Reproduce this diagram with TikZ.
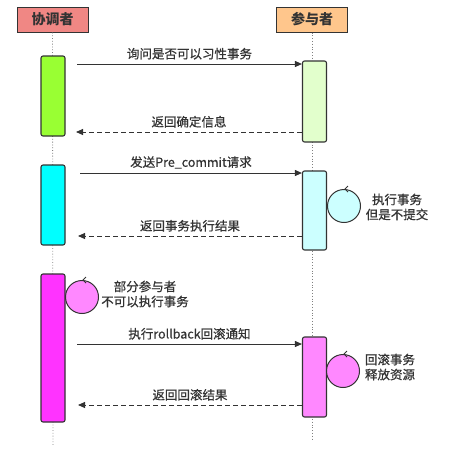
\documentclass[tikz,border=0pt]{standalone}
\usepackage{fontspec}
\setmainfont{Noto Sans CJK SC}
\newfontfamily\labelfont{Noto Sans CJK SC}[FakeBold=0.6]
\usepackage{tikz}
\usetikzlibrary{arrows.meta}
\usepackage[dvipsnames,svgnames,x11names]{xcolor}

\definecolor{coordred}{HTML}{F08784}
\definecolor{partorange}{HTML}{FFC68C}
\definecolor{actgreen}{HTML}{99FF33}
\definecolor{actpalegreen}{HTML}{E2FFCC}
\definecolor{actcyan}{HTML}{00FFFF}
\definecolor{actpalecyan}{HTML}{CCFFFF}
\definecolor{actmagenta}{HTML}{FF33FF}
\definecolor{actpink}{HTML}{FF88FF}
\definecolor{inkgray}{HTML}{333333}

\begin{document}
\begin{tikzpicture}[
    x=1pt, y=-1pt,
    >=Triangle,
    head/.style={draw=inkgray, line width=1pt, minimum width=71pt,
        minimum height=25pt, inner sep=0pt, font=\fontsize{14}{16}\selectfont\bfseries,
        text=inkgray},
    act/.style={draw=inkgray, line width=1.1pt, rounded corners=2pt,
        minimum width=24pt, inner sep=0pt},
    msg/.style={-{Triangle[length=7pt,width=6pt]}, line width=0.9pt, inkgray},
    reply/.style={msg, dash pattern=on 5pt off 3pt},
    lbl/.style={font=\labelfont\fontsize{12.5}{15}\selectfont, text=inkgray, inner sep=1pt},
    life/.style={gray, line width=0.8pt, dotted},
    loopmark/.style={inkgray, line width=0.8pt}
]

    \useasboundingbox (0,0) rectangle (459,475);

    % Rollen
    \node[head, fill=coordred] (coord) at (52.5,19.5) {协调者};
    \node[head, fill=partorange] (part) at (312,19.5) {参与者};

    % Lebenslinien
    \coordinate (coordend) at (53,446);
    \coordinate (partend) at (312,441);
    \draw[life] (coord.south) -- (coordend);
    \draw[life] (part.south) -- (partend);

    % Aktivierungen
    \node[act, fill=actgreen, minimum height=80pt] (c1) at (53,96) {};
    \node[act, fill=actpalegreen, minimum height=81pt] (p1) at (314.5,101.5) {};
    \node[act, fill=actcyan, minimum height=80pt] (c2) at (53,205) {};
    \node[act, fill=actpalecyan, minimum height=79pt] (p2) at (314.5,210.5) {};
    \node[act, fill=actmagenta, minimum height=148pt] (c3) at (53,348) {};
    \node[act, fill=actpink, minimum height=80pt] (p3) at (314.5,377) {};

    % Nachrichten
    \coordinate (m1) at (77,64);
    \draw[msg] (m1) -- (p1.west |- m1)
        node[lbl, midway, above=3pt] {询问是否可以习性事务};
    \coordinate (m2) at (76,132);
    \draw[reply] (p1.west |- m2) -- (m2)
        node[lbl, midway, above=3pt] {返回确定信息};
    \coordinate (m3) at (80,173);
    \draw[msg] (m3) -- (p2.west |- m3)
        node[lbl, midway, above=3pt] {发送Pre\_commit请求};
    \coordinate (m4) at (78,236);
    \draw[reply] (p2.west |- m4) -- (m4)
        node[lbl, midway, above=3pt] {返回事务执行结果};
    \coordinate (m5) at (77,344);
    \draw[msg] (m5) -- (p3.west |- m5)
        node[lbl, midway, above=3pt] {执行rollback回滚通知};
    \coordinate (m6) at (78,405);
    \draw[reply] (p3.west |- m6) -- (m6)
        node[lbl, midway, above=3pt] {返回回滚结果};

    % Selbstaufrufe
    \node[circle, draw=inkgray, line width=1pt, fill=actpalecyan,
        minimum size=33pt, inner sep=0pt] (s1) at (344,206) {};
    \draw[loopmark] ([xshift=4pt,yshift=3pt]s1.north)
        -- ([xshift=1pt]s1.north) -- ([xshift=4pt,yshift=-3pt]s1.north);
    \node[lbl, align=center] (s1txt) at (397,207) {执行事务\\但是不提交};

    \node[circle, draw=inkgray, line width=1pt, fill=actpink,
        minimum size=33pt, inner sep=0pt] (s2) at (82,297) {};
    \draw[loopmark] ([xshift=4pt,yshift=3pt]s2.north)
        -- ([xshift=1pt]s2.north) -- ([xshift=4pt,yshift=-3pt]s2.north);
    \node[lbl, align=center] (s2txt) at (145,294) {部分参与者\\不可以执行事务};

    \node[circle, draw=inkgray, line width=1pt, fill=actpink,
        minimum size=33pt, inner sep=0pt] (s3) at (343,371) {};
    \draw[loopmark] ([xshift=4pt,yshift=3pt]s3.north)
        -- ([xshift=1pt]s3.north) -- ([xshift=4pt,yshift=-3pt]s3.north);
    \node[lbl, align=center] (s3txt) at (390,367) {回滚事务\\释放资源};

\end{tikzpicture}
\end{document}
